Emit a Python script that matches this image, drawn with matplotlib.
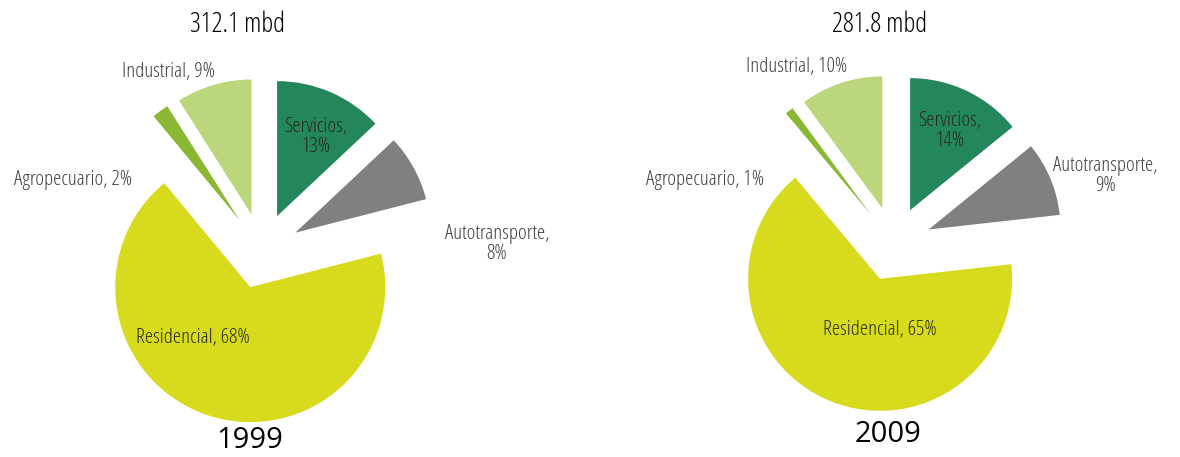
import matplotlib
matplotlib.use("Agg")
import matplotlib.pyplot as plt

# data
sectors = ['Servicios', 'Autotransporte', 'Residencial', 'Agropecuario', 'Industrial']
shares_1999 = [13, 8, 68, 2, 9]
shares_2009 = [14, 9, 65, 1, 10]
totals = ['312.1 mbd', '281.8 mbd']
years = ['1999', '2009']
colors = ['#24875c', '#808080', '#d8db1d', '#8ab834', '#bcd67c']

plt.rcParams['font.family'] = ['Open Sans', 'DejaVu Sans']

fig = plt.figure(figsize=(11.8, 4.57), dpi=100)
ax = fig.add_axes([0, 0, 1, 1])

H = 457
# pie 1
ax.pie(shares_1999, colors=colors, startangle=90, counterclock=False,
       radius=135, center=(262, H - 251), explode=[38] * 5,
       wedgeprops=dict(linewidth=0), frame=True)
# pie 2
ax.pie(shares_2009, colors=colors, startangle=90, counterclock=False,
       radius=132, center=(894, H - 244), explode=[37.5] * 5,
       wedgeprops=dict(linewidth=0), frame=True)
ax.set_xlim(0, 1180)
ax.set_ylim(0, 457)
ax.set_aspect('equal')
ax.axis('off')

out_c = '#404040'
in_c = '#2b2b1a'
fs = 15

def lab(x, y, s, c=out_c):
    ax.text(x, H - y, s, color=c, fontsize=fs, ha='center', va='center',
            linespacing=1.0, fontstretch='condensed', fontweight='light')

def head(x, y, s):
    ax.text(x, H - y, s, fontsize=19.5, ha='center', va='center', color='black',
            fontstretch='condensed')

def year(x, y, s):
    ax.text(x, H - y, s, fontsize=21, ha='center', va='center', color='black')

# 1999
head(238, 25, totals[0])
year(250, 441, years[0])
lab(168, 72, '%s, %d%%' % (sectors[4], shares_1999[4]))
lab(73, 180, '%s, %d%%' % (sectors[3], shares_1999[3]))
lab(316, 137, '%s,\n%d%%' % (sectors[0], shares_1999[0]), c=in_c)
lab(497, 244, '%s,\n%d%%' % (sectors[1], shares_1999[1]))
lab(193, 338, '%s, %d%%' % (sectors[2], shares_1999[2]), c=in_c)

# 2009
head(880, 25, totals[1])
year(888, 434, years[1])
lab(797, 67, '%s, %d%%' % (sectors[4], shares_2009[4]))
lab(705, 180, '%s, %d%%' % (sectors[3], shares_2009[3]))
lab(950, 131, '%s,\n%d%%' % (sectors[0], shares_2009[0]), c=in_c)
lab(1105, 176, '%s,\n%d%%' % (sectors[1], shares_2009[1]))
lab(880, 330, '%s, %d%%' % (sectors[2], shares_2009[2]), c=in_c)

fig.savefig('out.png', dpi=100)
